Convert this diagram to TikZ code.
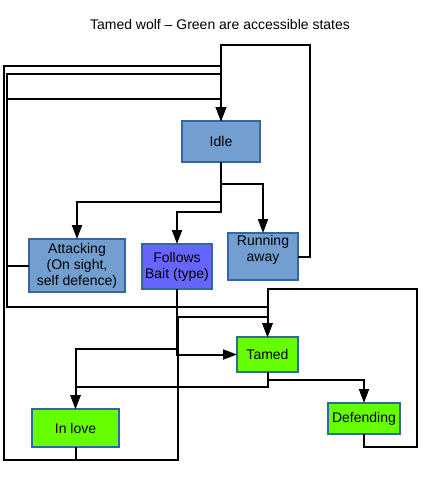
\documentclass[tikz,border=0pt]{standalone}
\usepackage{fontspec}
\setmainfont{Liberation Sans}
\usepackage{xcolor}
\usetikzlibrary{arrows.meta,positioning}
\definecolor{stateblue}{RGB}{114,159,207}
\definecolor{baitblue}{RGB}{102,102,255}
\definecolor{okgreen}{RGB}{102,255,0}
\definecolor{edgeblue}{RGB}{52,101,164}

\begin{document}
\begin{tikzpicture}[x=1pt, y=-1pt,
    state/.style={draw=edgeblue, line width=1.5pt, fill=stateblue, align=center,
      inner sep=0pt, outer sep=0pt, font=\fontsize{14}{16}\selectfont},
    conn/.style={line width=2pt, -{Triangle[length=14pt, width=10pt]}}]
        \useasboundingbox (0,0) rectangle (434,479);
        \node[font=\fontsize{14}{16}\selectfont] (title) at (220,24) {Tamed wolf -- Green are accessible states};
        % states
        \node[state, minimum width=78pt, minimum height=41pt] (idle) at (221,141.5) {Idle};
        \node[state, minimum width=96pt, minimum height=53pt] (attack) at (77,265.5) {Attacking\\(On sight,\\self defence)};
        \node[state, fill=baitblue, minimum width=70pt, minimum height=45pt] (bait) at (177,266.5) {Follows\\Bait (type)};
        \node[state, minimum width=70pt, minimum height=47pt] (run) at (263,256.5) {Running\\away\\~};
        \node[state, fill=okgreen, minimum width=61pt, minimum height=35pt] (tamed) at (267.5,354.5) {Tamed};
        \node[state, fill=okgreen, minimum width=72pt, minimum height=31pt] (defend) at (364,418.5) {Defending};
        \node[state, fill=okgreen, minimum width=87pt, minimum height=38pt] (love) at (75.5,428) {In love};
        % bends
        \coordinate (loopR) at (310,45);
        \coordinate (railA) at (4,66);
        \coordinate (railB) at (7,74);
        \coordinate (railC) at (7,99);
        \coordinate (railD) at (7,307);
        \coordinate (baseL) at (4,460);
        \coordinate (baseR) at (178,460);
        \coordinate (midT) at (178,317);
        \coordinate (loopT) at (417,289);
        \coordinate (loopB) at (417,447);
        % from idle
        \draw[conn] (idle.south) -- ++(0,22) -| (run.north);
        \draw[conn] (idle.south) -- ++(0,40) -| (attack.north);
        \draw[conn] (idle.south) -- ++(0,50) -| (bait.north);
        % back to idle
        \draw[conn] (run.east) -| (loopR) -| (idle.north);
        \draw[conn] (attack.west) -| (railB) -| (idle.north);
        \draw[conn] (attack.west) -| (railC) -| (idle.north);
        \draw[conn] (love.south) |- (baseL) |- (railA) -| (idle.north);
        % to tamed
        \draw[conn] (attack.west) -| (railD) -| (tamed.north);
        \draw[conn] (love.south) |- (baseR) |- (midT) -| (tamed.north);
        \draw[conn] (bait.south) |- (tamed.west);
        \draw[conn] (defend.south) |- (loopB) |- (loopT) -| (tamed.north);
        % to in love / defending
        \draw[conn] (bait.south) -- ++(0,60) -| (love.north);
        \draw[conn] (tamed.south) -- ++(0,8) -| (defend.north);
        \draw[conn] (tamed.south) -- ++(0,15) -| (love.north);
      \end{tikzpicture}
\end{document}
